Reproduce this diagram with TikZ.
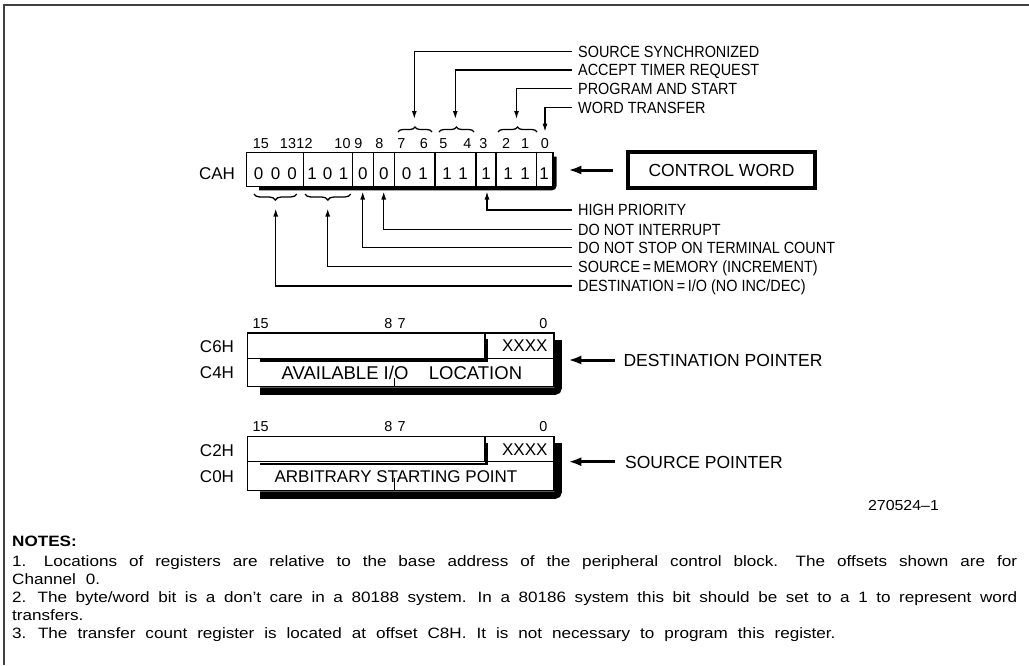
\documentclass[tikz,border=0pt]{standalone}
\usepackage{fontspec}
\setmainfont{Liberation Sans}
\newfontfamily\notefont[FakeStretch=1.14]{Liberation Sans}
\newfontfamily\figfont[FakeStretch=1.1]{Liberation Sans}
\newfontfamily\drawfont[FakeStretch=0.89]{Liberation Sans}
\usetikzlibrary{arrows.meta,decorations.pathreplacing}
\newcommand\fLab{\drawfont\fontsize{16.2}{18}\selectfont}
\newcommand\fBit{\fontsize{14.4}{16}\selectfont}
\newcommand\fReg{\fontsize{17}{19}\selectfont}
\newcommand\fRegL{\fontsize{18.5}{20}\selectfont}
\newcommand\fBig{\fontsize{17.5}{20}\selectfont}
\newcommand\fNote{\notefont\fontsize{15}{18}\selectfont\spaceskip=10pt plus 6pt minus 2pt\relax}
\begin{document}
\begin{tikzpicture}[x=1pt,y=-1pt,
  thinln/.style={line width=1.3pt},
  lbl/.style={anchor=base west, inner sep=0pt, font=\fLab, xshift=6pt, yshift=-5.8pt},
  bitnum/.style={anchor=base, inner sep=0pt, font=\fBit, yshift=-5.2pt},
  regtxt/.style={anchor=base, inner sep=0pt, font=\fReg, yshift=-6.1pt},
  regtxtL/.style={anchor=base, inner sep=0pt, font=\fRegL, yshift=-6.6pt},
  biglbl/.style={anchor=base west, inner sep=0pt, font=\fBig, yshift=-6.3pt},
  arr/.style={thinln, -{Latex[length=8pt,width=5pt]}},
  bigarr/.style={line width=3pt, -{Latex[length=13pt,width=9pt]}},
  bracetop/.style={thinln, decorate, decoration={brace, amplitude=5pt}},
  bracebot/.style={thinln, decorate, decoration={brace, mirror, amplitude=6pt}},
  shadowln/.style={line width=#1, rounded corners=3pt},
  notetxt/.style={anchor=base west, inner sep=0pt, font=\fNote}
]
\useasboundingbox (0,0) rectangle (1029,665);

% frame
\draw[line width=2pt, black!75] (3.7,665) -- (3.7,4.7) -- (1029,4.7);

% ---------- control word register ----------
\node[draw, thinln, anchor=north west, minimum width=306.6pt, minimum height=34.3pt, inner sep=0pt] (cah) at (245.7,151.7) {};
\foreach \x in {303.3,352.3,373.3,394.3,435,476,496,536.7}
  \draw[thinln] (\x,151.7) -- (\x,186);
\draw[shadowln=3.5pt] (554.8,156.5) -- (554.8,188.6) -- (259,188.6);
\node[regtxt] (cahname) at (217,173.3) {CAH};
% digits
\foreach \x/\d in {258.7/0,275.5/0,292.2/0,312/1,327.7/0,343.5/1,362.8/0,383.8/0,
                   406.5/0,423/1,447/1,463/1,486/1,508/1,525/1,544/1}
  \node[regtxt] at (\x,173.3) {\d};
% bit numbers
\foreach \x/\b in {261/15,288/13,304.5/12,342.5/10,358.5/9,379.5/8,401.5/7,424/6,
                   443.5/5,467.5/4,483.5/3,506/2,525/1,545/0}
  \node[bitnum] at (\x,143) {\b};
% braces above
\draw[bracetop] (398,132) -- (432,132);
\draw[bracetop] (439,132) -- (474,132);
\draw[bracetop] (498,132) -- (537,132);
% braces below
\draw[bracebot] (254,194) -- (296.7,194);
\draw[bracebot] (305,194) -- (350.7,194);

% ---------- labels above ----------
\coordinate (sSS) at (572,51.7);
\coordinate (sAT) at (572,70);
\coordinate (sPS) at (572,88.3);
\coordinate (sWT) at (572,107.3);
\node[lbl] (lSS) at (sSS) {SOURCE SYNCHRONIZED};
\node[lbl] (lAT) at (sAT) {ACCEPT TIMER REQUEST};
\node[lbl] (lPS) at (sPS) {PROGRAM AND START};
\node[lbl] (lWT) at (sWT) {WORD TRANSFER};
\coordinate (t76) at (414.3,119);
\coordinate (t54) at (455.3,119);
\coordinate (t21) at (516.5,119);
\coordinate (t0)  at (545,131.7);
\draw[arr] (sSS) -| (t76);
\draw[arr] (sAT) -| (t54);
\draw[arr] (sPS) -| (t21);
\draw[arr] (sWT) -| (t0);

% ---------- labels below ----------
\coordinate (sHP) at (572,210);
\coordinate (sNI) at (572,229.3);
\coordinate (sNS) at (572,247.8);
\coordinate (sSM) at (572,266.7);
\coordinate (sDI) at (572,286);
\node[lbl] (lHP) at (sHP) {HIGH PRIORITY};
\node[lbl] (lNI) at (sNI) {DO NOT INTERRUPT};
\node[lbl] (lNS) at (sNS) {DO NOT STOP ON TERMINAL COUNT};
\node[lbl] (lSM) at (sSM) {SOURCE\,=\,MEMORY (INCREMENT)};
\node[lbl] (lDI) at (sDI) {DESTINATION\,=\,I/O (NO INC/DEC)};
\coordinate (t3) at (487,191.5);
\coordinate (t8) at (383.7,191.5);
\coordinate (t9) at (362.7,191.5);
\coordinate (t1210) at (327.7,208.5);
\coordinate (t1513) at (275.7,208.5);
\draw[arr] (sHP) -| (t3);
\draw[arr] (sNI) -| (t8);
\draw[arr] (sNS) -| (t9);
\draw[arr] (sSM) -| (t1210);
\draw[arr] (sDI) -| (t1513);

% ---------- control word box ----------
\node[draw, line width=3.8pt, minimum width=187.6pt, minimum height=36pt, inner sep=0pt, font=\fBig] (cw) at (721.5,170) {CONTROL WORD};
\coordinate (cwfrom) at (613,170);
\coordinate (cwto) at (568.3,170);
\draw[bigarr] (cwfrom) -- (cwto);

% ---------- destination pointer ----------
\node[draw, thinln, anchor=north west, minimum width=306.6pt, minimum height=53.7pt, inner sep=0pt] (dst) at (246.7,332.3) {};
\draw[thinln] (246.7,358.3) -- (553.3,358.3);
\draw[thinln] (485,332.3) -- (485,358.3);
\draw[line width=2.6pt] (486.4,339) -- (486.4,360.5) -- (260,360.5);
\draw[shadowln=7.5pt] (558,340) -- (558,391) -- (260,391);
\draw[thinln] (394.3,386) -- (394.3,378);
\node[regtxt] at (217,346.7) {C6H};
\node[regtxt] at (217,372.7) {C4H};
\node[regtxt] at (524.8,345.3) {XXXX};
\node[regtxtL] at (345,372.7) {AVAILABLE I/O};
\node[regtxtL] at (475.5,372.7) {LOCATION};
\foreach \x/\b in {260.7/15,388.3/8,401.7/7,543.3/0}
  \node[bitnum] at (\x,323.3) {\b};
\node[biglbl] (dlbl) at (623.3,360) {DESTINATION POINTER};
\coordinate (dfrom) at (615,360);
\coordinate (dto) at (568.3,360);
\draw[bigarr] (dfrom) -- (dto);

% ---------- source pointer ----------
\node[draw, thinln, anchor=north west, minimum width=306.6pt, minimum height=54pt, inner sep=0pt] (src) at (246.7,436) {};
\draw[thinln] (246.7,461.7) -- (553.3,461.7);
\draw[thinln] (485,436) -- (485,461.7);
\draw[line width=2.6pt] (486.4,443) -- (486.4,463.9) -- (260,463.9);
\draw[shadowln=7.5pt] (558,443) -- (558,495) -- (260,495);
\draw[thinln] (394.3,490) -- (394.3,478);
\node[regtxt] at (217,450) {C2H};
\node[regtxt] at (217,476.7) {C0H};
\node[regtxt] at (524.8,449) {XXXX};
\node[regtxt] at (396,476.7) {ARBITRARY STARTING POINT};
\foreach \x/\b in {260.7/15,388.3/8,401.7/7,543.3/0}
  \node[bitnum] at (\x,426.7) {\b};
\node[biglbl] (slbl) at (625,461.7) {SOURCE POINTER};
\coordinate (sfrom) at (615,461.7);
\coordinate (sto) at (568.3,461.7);
\draw[bigarr] (sfrom) -- (sto);

% ---------- figure number ----------
\node[anchor=base, inner sep=0pt, font={\figfont\fontsize{14.5}{16}\selectfont}] (fig) at (903.5,510) {270524–1};

% ---------- notes ----------
\node[notetxt] (n0) at (12,546) {\bfseries NOTES:};
\node[notetxt] (n1) at (12,566.5) {\makebox[1005pt][s]{1. Locations of registers are relative to the base address of the peripheral control block. The offsets shown are for}};
\node[notetxt] (n2) at (12,584.5) {Channel 0.};
\node[notetxt] (n3) at (12,602.5) {\makebox[1005pt][s]{2. The byte/word bit is a don’t care in a 80188 system. In a 80186 system this bit should be set to a 1 to represent word}};
\node[notetxt] (n4) at (12,620.5) {transfers.};
\node[notetxt] (n5) at (12,638.5) {3. The transfer count register is located at offset C8H. It is not necessary to program this register.};
\end{tikzpicture}
\end{document}
